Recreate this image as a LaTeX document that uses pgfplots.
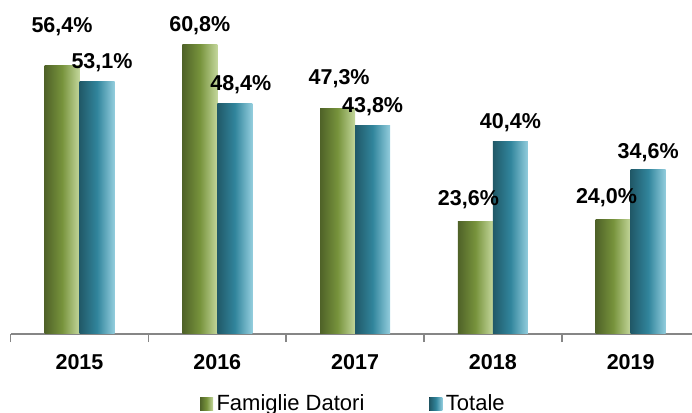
\documentclass[border=0pt]{standalone}
\usepackage{pgfplots}
\usepackage{pgfplotstable}
\pgfplotsset{compat=1.18}
\usepackage{fontspec}
\setmainfont{Liberation Sans}

\definecolor{gl}{RGB}{79,98,40}
\definecolor{gm}{RGB}{119,147,60}
\definecolor{gr}{RGB}{195,214,155}
\definecolor{bl}{RGB}{33,89,104}
\definecolor{bm}{RGB}{49,133,156}
\definecolor{br}{RGB}{147,205,221}
\definecolor{axisgray}{RGB}{134,134,134}

\tikzset{
  gshade/.style={draw=none, left color=gl, right color=gr, middle color=gm},
  bshade/.style={draw=none, left color=bl, right color=br, middle color=bm},
}

% x = anno (0..4), y = valore, dx/dy = spostamento etichetta
\pgfplotstableread{
x y dx dy
0 56.4 0 33.3
1 60.8 0 13.5
2 47.3 1.5 24.8
3 23.6 -7 16
4 24.0 -6.7 15.8
}\famiglie

\pgfplotstableread{
x y dx dy
0 53.1 5 12.8
1 48.4 6 13
2 43.8 0 12.8
3 40.4 0 13
4 34.6 0 11.3
}\totale

\begin{document}
\begin{tikzpicture}
\begin{axis}[
    at={(10.6bp,79bp)}, anchor=south west,
    scale only axis,
    width=689bp, height=333.2bp,
    xmin=-0.5, xmax=4.5,
    ymin=0, ymax=70,
    clip=false,
    axis x line=bottom, axis y line=none,
    axis line style={-, draw=axisgray, line width=2.2bp},
    xtick={0,1,2,3,4},
    xticklabels={2015,2016,2017,2018,2019},
    minor xtick={-0.5,0.5,1.5,2.5,3.5,4.5},
    tick align=outside,
    major tick length=0pt,
    minor tick length=8bp,
    tick style={draw=axisgray, line width=1.5bp},
    xticklabel style={anchor=base, yshift=-35.3bp,
        font=\fontsize{21.5bp}{25bp}\selectfont\bfseries},
    /pgf/number format/assume math mode=true,
    point meta=y,
    nodes near coords={\pgfmathprintnumber[fixed,fixed zerofill,precision=1,use comma]{\pgfplotspointmeta}\%},
    visualization depends on={\thisrow{dx} \as \ldx},
    visualization depends on={\thisrow{dy} \as \ldy},
    nodes near coords style={anchor=base, xshift=\ldx bp, yshift=\ldy bp,
        font=\fontsize{21.5bp}{25bp}\selectfont\bfseries, text=black},
    legend columns=2,
    legend style={at={(0.2749,-0.2131)}, anchor=west, draw=none, fill=none,
        inner sep=0pt, outer sep=0pt,
        font=\fontsize{22bp}{26bp}\selectfont,
        nodes={inner sep=0pt, text height=16bp, text depth=5bp},
        /tikz/every odd column/.append style={column sep=3.5bp},
        /tikz/every even column/.append style={column sep=65bp}},
    legend image code/.code={\fill[#1] (0bp,-5.5bp) rectangle (13bp,8bp);},
    fam/.style={ybar, bar width=35bp, bar shift=-17.5bp, gshade, forget plot,
        nodes near coords style={xshift=-17.5bp}},
    tot/.style={ybar, bar width=35bp, bar shift=17.5bp, bshade, forget plot,
        nodes near coords style={xshift=17.5bp}},
]
\addlegendimage{gshade}
\addlegendentry{Famiglie Datori}
\addlegendimage{bshade}
\addlegendentry{Totale}
% una barra per volta, così ogni barra ha la sua sfumatura
\pgfplotsinvokeforeach{0,1,2,3,4}{
  \addplot[fam, restrict x to domain=#1:#1] table[x=x, y=y] {\famiglie};
  \addplot[tot, restrict x to domain=#1:#1] table[x=x, y=y] {\totale};
}
\end{axis}
\pgfresetboundingbox
\path[use as bounding box] (0,0) rectangle (692bp,413bp);
\end{tikzpicture}
\end{document}
